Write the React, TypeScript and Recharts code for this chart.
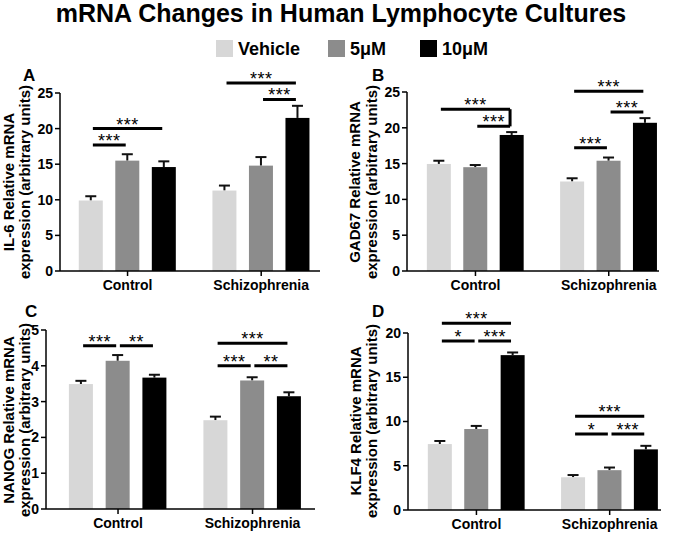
import React from 'react'
import { BarChart, Bar, XAxis, YAxis, ReferenceLine } from 'recharts'

const FONT = '"Liberation Sans", Arial, Helvetica, sans-serif'

const groups = ['Control', 'Schizophrenia']
const doses = ['Vehicle', '5μM', '10μM']
const doseColors = ['#d7d7d7', '#8c8c8c', '#000000']

// order: Control Vehicle/5μM/10μM, Schizophrenia Vehicle/5μM/10μM
const il6Mean = [9.9, 15.5, 14.6, 11.3, 14.8, 21.5]
const il6Sem = [0.6, 0.9, 0.8, 0.7, 1.2, 1.7]
const gad67Mean = [14.95, 14.5, 19.0, 12.5, 15.4, 20.7]
const gad67Sem = [0.45, 0.3, 0.4, 0.45, 0.45, 0.65]
const nanogMean = [3.49, 4.14, 3.67, 2.48, 3.59, 3.15]
const nanogSem = [0.09, 0.16, 0.08, 0.1, 0.09, 0.11]
const klf4Mean = [7.45, 9.15, 17.5, 3.7, 4.5, 6.85]
const klf4Sem = [0.35, 0.35, 0.3, 0.25, 0.3, 0.4]

// significance brackets: [fromBar, toBar, y, stars, dropTo?]
type Sig = [number, number, number, string, number?]
const il6Sig: Sig[] = [[0, 1, 17.7, '***'], [0, 2, 20.0, '***'], [4, 5, 24.1, '***'], [3, 5, 26.4, '***']]
const gad67Sig: Sig[] = [[1, 2, 20.2, '***'], [0, 2, 22.6, '***', 20.2], [3, 4, 17.2, '***'], [4, 5, 22.2, '***'], [3, 5, 25.1, '***']]
const nanogSig: Sig[] = [[0, 1, 4.56, '***'], [1, 2, 4.56, '**'], [3, 4, 4.0, '***'], [4, 5, 4.0, '**'], [3, 5, 4.63, '***']]
const klf4Sig: Sig[] = [[0, 1, 19.1, '*'], [1, 2, 19.1, '***'], [0, 2, 21.1, '***'], [3, 4, 8.6, '*'], [4, 5, 8.6, '***'], [3, 5, 10.6, '***']]

const GROUP_STEP = 3.66
const barPos = (i: number) => Math.floor(i / 3) * GROUP_STEP + (i % 3) + 1
const groupTicks = groups.map((_, g) => g * GROUP_STEP + 2)

const BarWithErr = (props: any) => {
  const { x, y, width, height, payload } = props
  if (!payload || !height) return null
  const unit = height / payload.mean
  const top = y - payload.sem * unit
  const cx = x + width / 2
  return (
    <g>
      <line x1={cx} x2={cx} y1={y} y2={top} stroke="#111" strokeWidth={2} />
      <line x1={cx - 5.5} x2={cx + 5.5} y1={top} y2={top} stroke="#111" strokeWidth={2} />
      <rect x={x} y={y} width={width} height={height} fill={doseColors[payload.dose]} />
    </g>
  )
}

type PanelProps = {
  means: number[]
  sems: number[]
  sigs: Sig[]
  yMax: number
  yTicks: number[]
  xDomain: [number, number]
  left: number
  top: number
  width: number
  height: number
  margin: { top: number; right: number; bottom: number; left: number }
  yWidth: number
  xHeight: number
}

function Panel(p: PanelProps) {
  const rows = p.means.map((m, i) => ({ x: barPos(i), mean: m, sem: p.sems[i], dose: i % 3 }))
  const axisStyle = { stroke: '#000', strokeWidth: 1.5 }
  const tickStyle = { fontSize: 14, fontWeight: 700, fill: '#000', fontFamily: FONT }
  return (
    <div style={{ position: 'absolute', left: p.left, top: p.top }}>
      <BarChart width={p.width} height={p.height} data={rows} margin={p.margin} barSize={24}>
        <XAxis
          type="number"
          dataKey="x"
          domain={p.xDomain}
          allowDataOverflow
          ticks={groupTicks}
          tickFormatter={(v: number) => groups[Math.round((v - 2) / GROUP_STEP)]}
          height={p.xHeight}
          tickSize={5}
          tickMargin={4}
          axisLine={axisStyle}
          tickLine={axisStyle}
          tick={tickStyle}
        />
        <YAxis
          type="number"
          domain={[0, p.yMax]}
          ticks={p.yTicks}
          allowDataOverflow
          width={p.yWidth}
          tickSize={5}
          axisLine={axisStyle}
          tickLine={axisStyle}
          tick={tickStyle}
        />
        <Bar dataKey="mean" shape={BarWithErr} isAnimationActive={false} />
        {p.sigs.map(([a, b, y, stars], k) => (
          <ReferenceLine
            key={'s' + k}
            segment={[{ x: barPos(a) + 0.05, y }, { x: barPos(b) - 0.05, y }]}
            stroke="#000"
            strokeWidth={3}
            ifOverflow="visible"
            label={{ value: stars, position: 'top', offset: -2, fill: '#000', fontSize: 18, fontFamily: FONT, letterSpacing: 0.5 }}
          />
        ))}
        {p.sigs.filter((s) => s[4] !== undefined).map(([a, b, y, , drop], k) => (
          <ReferenceLine
            key={'d' + k}
            segment={[{ x: barPos(b) - 0.05, y }, { x: barPos(b) - 0.05, y: drop as number }]}
            stroke="#000"
            strokeWidth={3}
            ifOverflow="visible"
          />
        ))}
      </BarChart>
    </div>
  )
}

const yLabels = [
  { x1: 14, x2: 30, cy: 182, l1: 'IL-6 Relative mRNA' },
  { x1: 360, x2: 377, cy: 182, l1: 'GAD67 Relative mRNA' },
  { x1: 14, x2: 30, cy: 420, l1: 'NANOG Relative mRNA' },
  { x1: 361, x2: 377, cy: 421, l1: 'KLF4 Relative mRNA' },
]
const panelLetters = [
  { t: 'A', x: 23, y: 81 },
  { t: 'B', x: 372, y: 81 },
  { t: 'C', x: 25, y: 317 },
  { t: 'D', x: 372, y: 317 },
]
const legendX = [216, 328, 420]

export default function App() {
  return (
    <div style={{ position: 'absolute', left: 0, top: 0, width: 677, height: 533, background: '#fff', overflow: 'hidden', fontFamily: FONT }}>
      <Panel means={il6Mean} sems={il6Sem} sigs={il6Sig} yMax={25} yTicks={[0, 5, 10, 15, 20, 25]}
        xDomain={[0.15, 7.27]} left={0} top={60} width={338} height={241}
        margin={{ top: 33, right: 18, bottom: 0, left: 0 }} yWidth={60} xHeight={30} />
      <Panel means={gad67Mean} sems={gad67Sem} sigs={gad67Sig} yMax={25} yTicks={[0, 5, 10, 15, 20, 25]}
        xDomain={[0.12, 7.04]} left={340} top={60} width={337} height={241}
        margin={{ top: 32, right: 18, bottom: 0, left: 0 }} yWidth={67} xHeight={30} />
      <Panel means={nanogMean} sems={nanogSem} sigs={nanogSig} yMax={5} yTicks={[0, 1, 2, 3, 4, 5]}
        xDomain={[0.04, 7.36]} left={0} top={290} width={338} height={241}
        margin={{ top: 40, right: 23, bottom: 0, left: 0 }} yWidth={46} xHeight={22} />
      <Panel means={klf4Mean} sems={klf4Sem} sigs={klf4Sig} yMax={20} yTicks={[0, 5, 10, 15, 20]}
        xDomain={[0.12, 7.07]} left={340} top={290} width={337} height={242}
        margin={{ top: 43, right: 16, bottom: 0, left: 0 }} yWidth={68} xHeight={22} />
      <svg width={677} height={533} style={{ position: 'absolute', left: 0, top: 0, pointerEvents: 'none' }}>
        <text x={341} y={22} textAnchor="middle" fontSize={25} fontWeight={700} fill="#000" fontFamily={FONT}>
          mRNA Changes in Human Lymphocyte Cultures
        </text>
        {doses.map((d, i) => (
          <g key={d}>
            <rect x={legendX[i]} y={40} width={17} height={17} fill={doseColors[i]} />
            <text x={legendX[i] + 22} y={55} fontSize={18} fontWeight={700} fill="#000" fontFamily={FONT}>{d}</text>
          </g>
        ))}
        {panelLetters.map((l) => (
          <text key={l.t} x={l.x} y={l.y} fontSize={17} fontWeight={700} fill="#000" fontFamily={FONT}>{l.t}</text>
        ))}
        {yLabels.map((l) => (
          <g key={l.l1}>
            <text transform={`translate(${l.x1},${l.cy}) rotate(-90)`} textAnchor="middle" fontSize={15} fontWeight={700} fill="#000" fontFamily={FONT}>{l.l1}</text>
            <text transform={`translate(${l.x2},${l.cy}) rotate(-90)`} textAnchor="middle" fontSize={15} fontWeight={700} fill="#000" fontFamily={FONT}>expression (arbitrary units)</text>
          </g>
        ))}
      </svg>
    </div>
  )
}
